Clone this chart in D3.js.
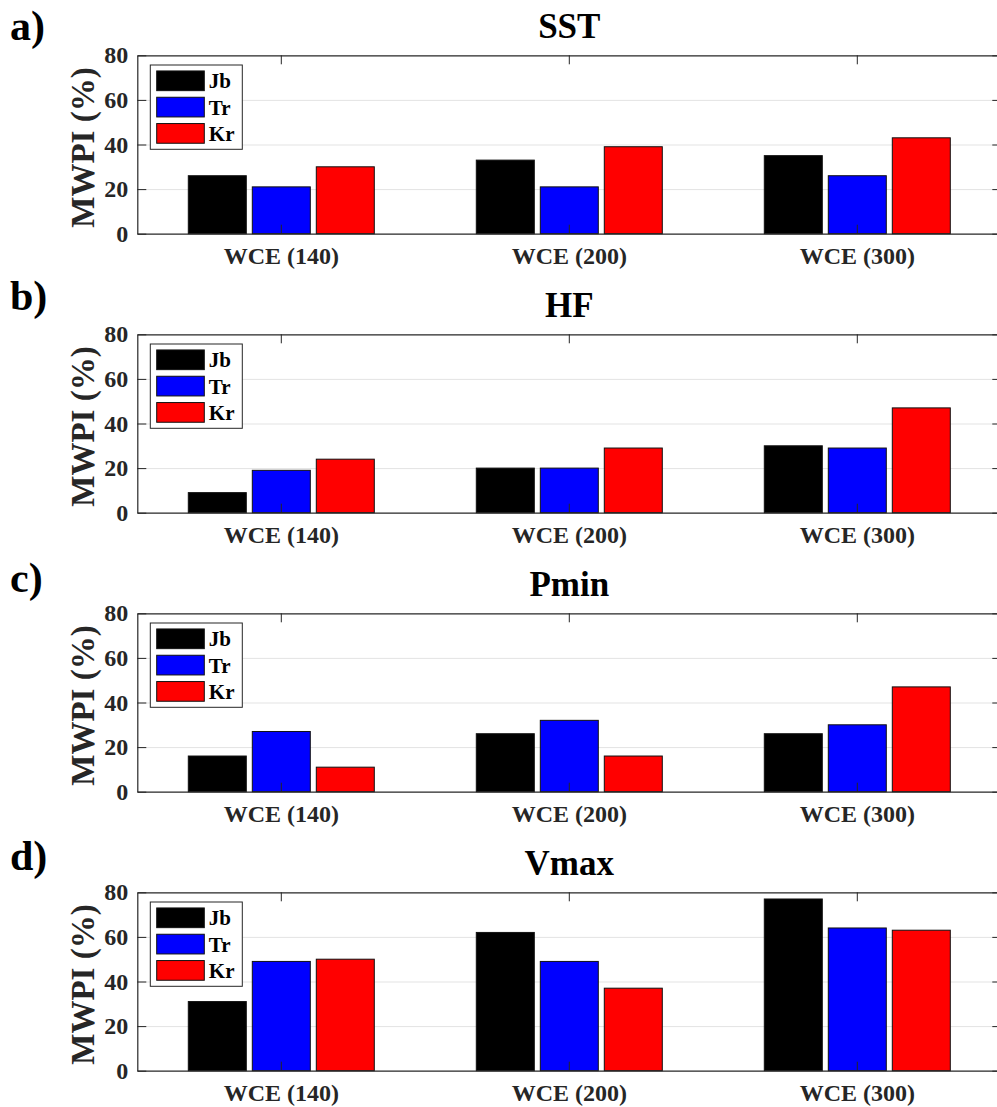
<!DOCTYPE html>
<html>
<head>
<meta charset="utf-8">
<script src="https://cdn.jsdelivr.net/npm/d3@7"></script>
<style>
  html, body { margin: 0; padding: 0; background: #fff; overflow: hidden; }
  svg text { font-family: "Liberation Serif", "Times New Roman", serif; font-weight: bold; }
</style>
</head>
<body>
<svg id="fig" width="997" height="1107"></svg>
<script>
// ---- data ----
const categories = ["WCE (140)", "WCE (200)", "WCE (300)"];
const series = ["Jb", "Tr", "Kr"];
const seriesColors = ["#000000", "#0000ff", "#ff0000"];
const panelTitles = ["SST", "HF", "Pmin", "Vmax"];
const panelLetters = ["a)", "b)", "c)", "d)"];
const yTickValues = [0, 20, 40, 60, 80];
const gridValues = [20, 40, 60];

// MWPI (%) per series (rows: Jb, Tr, Kr), per category (columns)
const sst  = [[26, 33, 35], [21, 21, 26], [30, 39, 43]];
const hf   = [[9, 20, 30],  [19, 20, 29], [24, 29, 47]];
const pmin = [[16, 26, 26], [27, 32, 30], [11, 16, 47]];
const vmax = [[31, 62, 77], [49, 49, 64], [50, 37, 63]];
const panels = [sst, hf, pmin, vmax];

// ---- layout ----
const plotLeft = 137.3, plotRight = 1001.3;
const plotH = 178.4, firstTop = 55.3, panelStep = 279;
const letterBaselines = [40, 310, 592, 870];
const axisColor = "#262626";

const svg = d3.select("#fig");

const x = d3.scaleBand().domain(categories).range([plotLeft, plotRight]);
const bw = x.bandwidth();
const xs = d3.scaleBand().domain(series)
  .range([bw / 6, bw * 5 / 6])
  .paddingInner(0.09375).paddingOuter(0.046875);

panels.forEach((vals, pi) => {
  const top = firstTop + pi * panelStep;
  const bottom = top + plotH;
  const y = d3.scaleLinear().domain([0, 80]).range([bottom, top]);
  const g = svg.append("g");

  // grid
  g.append("g")
    .attr("transform", `translate(${plotLeft},0)`)
    .call(d3.axisLeft(y).tickValues(gridValues).tickSize(-(plotRight - plotLeft)).tickFormat(""))
    .call(s => s.select(".domain").remove())
    .call(s => s.selectAll("line").attr("stroke", "#e3e3e3").attr("stroke-width", 1));

  // bars
  const rows = [];
  series.forEach((s, si) => categories.forEach((c, ci) => rows.push({ s, si, c, v: vals[si][ci] })));
  g.append("g").selectAll("rect").data(rows).join("rect")
    .attr("x", d => x(d.c) + xs(d.s))
    .attr("y", d => y(d.v))
    .attr("width", xs.bandwidth())
    .attr("height", d => y(0) - y(d.v))
    .attr("fill", d => seriesColors[d.si])
    .attr("stroke", "#111")
    .attr("stroke-width", 1);

  const styleAxis = s => {
    s.select(".domain").attr("stroke", axisColor).attr("stroke-width", 1.2);
    s.selectAll(".tick line").attr("stroke", axisColor).attr("stroke-width", 1);
    s.selectAll("text").attr("fill", axisColor).style("font-size", "24px")
      .style("font-family", '"Liberation Serif", serif').style("font-weight", "bold");
  };

  // left axis
  g.append("g").attr("transform", `translate(${plotLeft},0)`)
    .call(d3.axisLeft(y).tickValues(yTickValues).tickSize(-9).tickSizeOuter(0).tickPadding(9))
    .call(styleAxis);
  // right axis
  g.append("g").attr("transform", `translate(${plotRight},0)`)
    .call(d3.axisRight(y).tickValues(yTickValues).tickSize(-9).tickSizeOuter(0).tickFormat(""))
    .call(styleAxis);
  // bottom axis
  g.append("g").attr("transform", `translate(0,${bottom})`)
    .call(d3.axisBottom(x).tickSize(-9).tickSizeOuter(0).tickPadding(13.6))
    .call(styleAxis);
  // top axis
  g.append("g").attr("transform", `translate(0,${top})`)
    .call(d3.axisTop(x).tickSize(-9).tickSizeOuter(0).tickFormat(""))
    .call(styleAxis);

  // y label
  g.append("text")
    .attr("transform", `translate(93.5,${(top + bottom) / 2 + 3}) rotate(-90)`)
    .attr("text-anchor", "middle")
    .attr("fill", axisColor)
    .style("font-size", "33px")
    .text("MWPI (%)");

  // title
  g.append("text")
    .attr("x", (plotLeft + plotRight) / 2)
    .attr("y", top - 17)
    .attr("text-anchor", "middle")
    .attr("fill", "#000")
    .style("font-size", "35px")
    .text(panelTitles[pi]);

  // panel letter
  g.append("text")
    .attr("x", 10)
    .attr("y", letterBaselines[pi])
    .attr("fill", "#000")
    .style("font-size", "42px")
    .text(panelLetters[pi]);

  // legend
  const lg = g.append("g").attr("transform", `translate(${plotLeft + 13},${top + 9.7})`);
  lg.append("rect").attr("width", 92).attr("height", 84.3)
    .attr("fill", "#fff").attr("stroke", axisColor).attr("stroke-width", 1);
  const rowCenters = [15.8, 42.1, 68.4];
  series.forEach((s, si) => {
    lg.append("rect")
      .attr("x", 6.4).attr("y", rowCenters[si] - 9.85)
      .attr("width", 47.6).attr("height", 19.7)
      .attr("fill", seriesColors[si]).attr("stroke", "#111").attr("stroke-width", 1);
    lg.append("text")
      .attr("x", 58.5).attr("y", rowCenters[si] + 7.5)
      .attr("fill", "#000")
      .style("font-size", "21px")
      .text(s);
  });
});
</script>
</body>
</html>
